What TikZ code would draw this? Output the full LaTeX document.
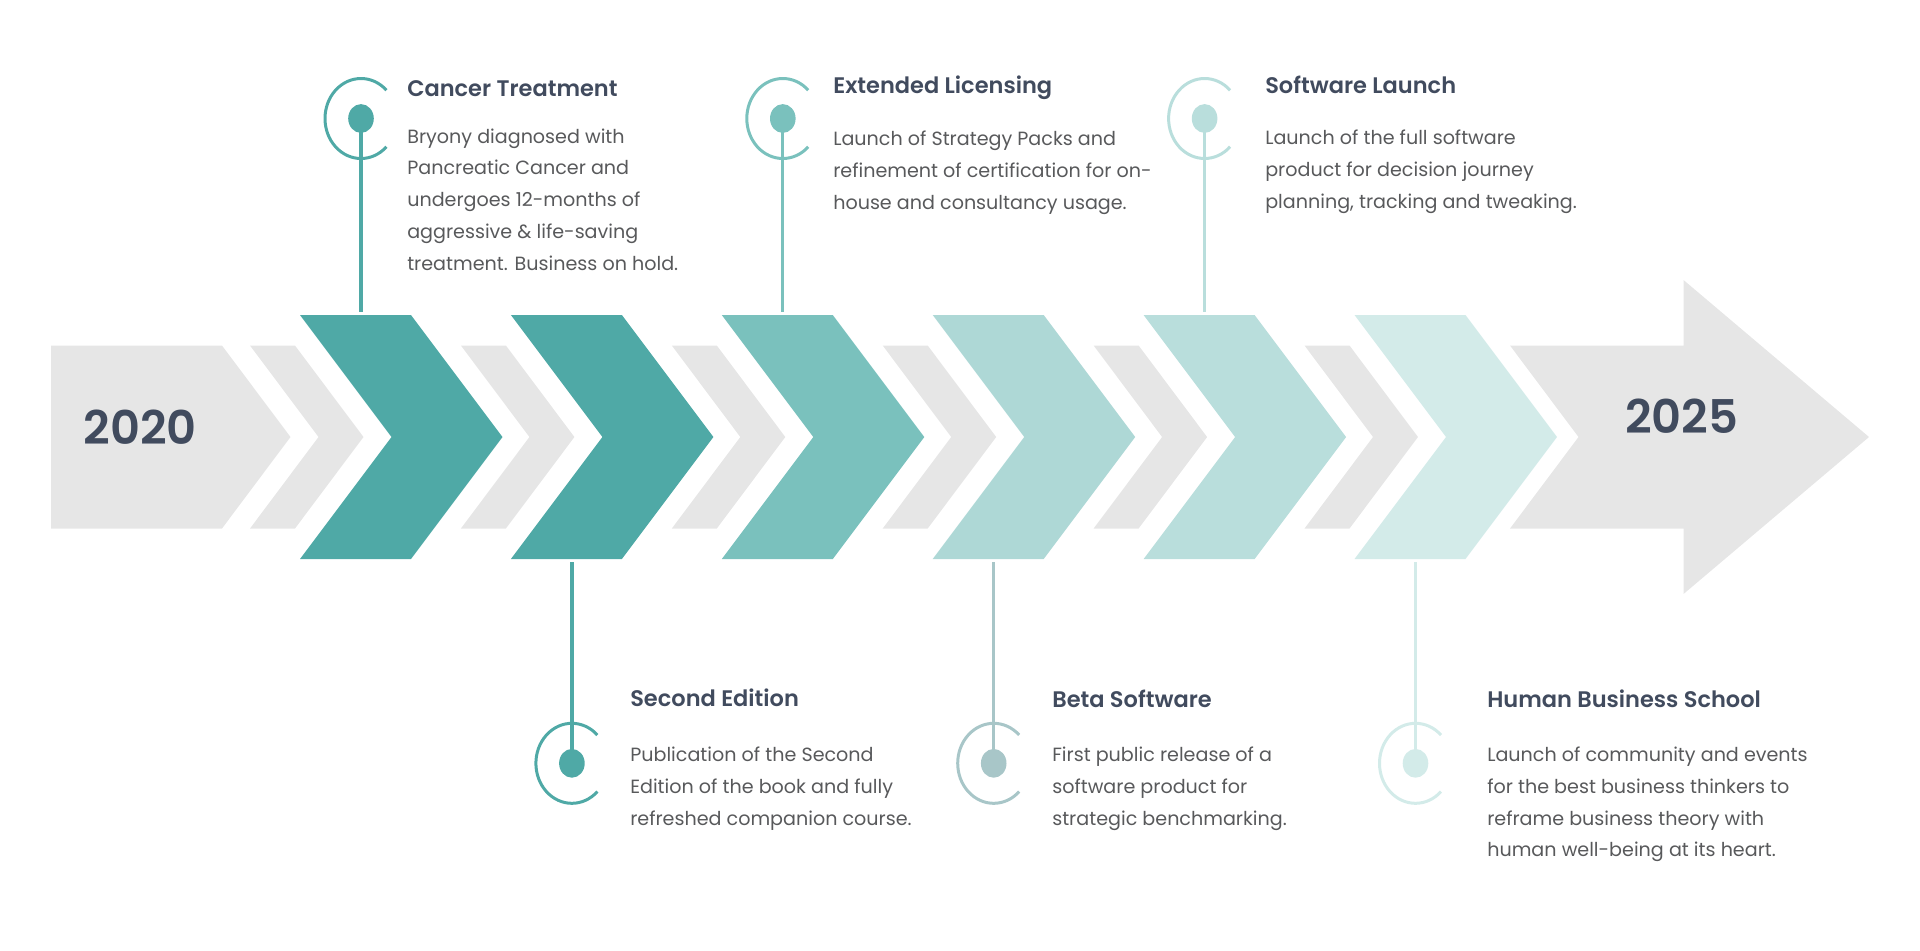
\documentclass[tikz,border=0pt]{standalone}
\usepackage{fontspec}
\setmainfont{Poppins}[BoldFont={Poppins SemiBold}]
\usetikzlibrary{shapes.geometric, positioning}

\definecolor{tealA}{HTML}{4FA9A6}
\definecolor{tealB}{HTML}{7AC1BD}
\definecolor{tealC}{HTML}{AED8D6}
\definecolor{tealD}{HTML}{B9DEDC}
\definecolor{tealE}{HTML}{D3EBE9}
\definecolor{betaicon}{HTML}{A8C6C8}
\definecolor{greyfill}{HTML}{E6E6E6}
\definecolor{slate}{HTML}{414B5E}
\definecolor{bodygrey}{HTML}{58595B}

\begin{document}
\begin{tikzpicture}[x=0.025cm, y=-0.025cm,
    year/.style={font=\fontsize{33}{33}\selectfont\bfseries, text=slate, inner sep=0, anchor=base west},
    title/.style={font=\fontsize{16}{20}\selectfont\bfseries, text=slate, inner sep=0, anchor=base west},
    body/.style={font=\fontsize{13.6}{22.55}\selectfont, text=bodygrey, align=left, inner sep=0, anchor=base west},
    dot/.style={ellipse, inner sep=0, minimum width=6.4mm, minimum height=7.2mm},
    ring/.style={line width=0.75mm},
    stem/.style={line width=0.8mm}
]
\useasboundingbox (0,0) rectangle (1920,950);

% grey band: start block and end arrow
\fill[greyfill] (51,345.5) -- (222,345.5) -- (290.5,437) -- (222,528.5) -- (51,528.5) -- cycle;
\fill[greyfill] (1510,345.5) -- (1683.5,345.5) -- (1683.5,280) -- (1869,437) -- (1683.5,594)
    -- (1683.5,528.5) -- (1510,528.5) -- (1578.5,437) -- cycle;

% chevrons, each with a small grey one before it
\foreach \x/\col [count=\i] in {300/tealA, 510.9/tealA, 721.8/tealB, 932.7/tealC, 1143.6/tealD, 1354.5/tealE} {
  \fill[greyfill] (\x-50,345.5) -- ++(45,0) -- ++(68.5,91.5) -- ++(-68.5,91.5) -- ++(-45,0) -- ++(68.5,-91.5) -- cycle;
  \fill[\col] (\x,315) -- ++(111,0) -- ++(91.5,122) -- ++(-91.5,122) -- ++(-111,0) -- ++(91.5,-122) -- cycle;
  \coordinate (top\i) at (\x+61,312);
  \coordinate (bot\i) at (\x+61,562);
}

\node[year] (y0) at (83.3,444) {2020};
\node[year] (y1) at (1625,433.3) {2025};

% events above the band (body nodes sit on their last baseline)
\node[dot, fill=tealA] (d1) at (361,118.5) {};
\draw[stem, tealA] (d1.center) -- (top1);
\draw[ring, tealA] (d1.center) ++(45:36 and 40) arc[start angle=45, end angle=315, x radius=36, y radius=40];
\node[title] (t1) at (407,96.7) {Cancer Treatment};
\node[body] (b1) at (407,270) {Bryony diagnosed with\\Pancreatic Cancer and\\undergoes 12-months of\\aggressive \& life-saving\\treatment. Business on hold.};

\node[dot, fill=tealB] (d3) at (782.8,118.5) {};
\draw[stem, tealB] (d3.center) -- (top3);
\draw[ring, tealB] (d3.center) ++(45:36 and 40) arc[start angle=45, end angle=315, x radius=36, y radius=40];
\node[title] (t3) at (833,93.3) {Extended Licensing};
\node[body] (b3) at (833,209.3) {Launch of Strategy Packs and\\refinement of certification for on-\\house and consultancy usage.};

\node[dot, fill=tealD] (d5) at (1204.6,118.5) {};
\draw[stem, tealD] (d5.center) -- (top5);
\draw[ring, tealD] (d5.center) ++(45:36 and 40) arc[start angle=45, end angle=315, x radius=36, y radius=40];
\node[title] (t5) at (1265,93.3) {Software Launch};
\node[body] (b5) at (1265,208.3) {Launch of the full software\\product for decision journey\\planning, tracking and tweaking.};

% events below the band
\node[dot, fill=tealA] (d2) at (571.9,763.3) {};
\draw[stem, tealA] (bot2) -- (d2.center);
\draw[ring, tealA] (d2.center) ++(45:36 and 40) arc[start angle=45, end angle=315, x radius=36, y radius=40];
\node[title] (t2) at (630,706.7) {Second Edition};
\node[body] (b2) at (630,825) {Publication of the Second\\Edition of the book and fully\\refreshed companion course.};

\node[dot, fill=betaicon] (d4) at (993.7,763.3) {};
\draw[stem, betaicon] (bot4) -- (d4.center);
\draw[ring, betaicon] (d4.center) ++(45:36 and 40) arc[start angle=45, end angle=315, x radius=36, y radius=40];
\node[title] (t4) at (1052,707.3) {Beta Software};
\node[body] (b4) at (1052,825) {First public release of a\\software product for\\strategic benchmarking.};

\node[dot, fill=tealE] (d6) at (1415.5,763.3) {};
\draw[stem, tealE] (bot6) -- (d6.center);
\draw[ring, tealE] (d6.center) ++(45:36 and 40) arc[start angle=45, end angle=315, x radius=36, y radius=40];
\node[title] (t6) at (1487,707.3) {Human Business School};
\node[body] (b6) at (1487,856.7) {Launch of community and events\\for the best business thinkers to\\reframe business theory with\\human well-being at its heart.};
\end{tikzpicture}
\end{document}
